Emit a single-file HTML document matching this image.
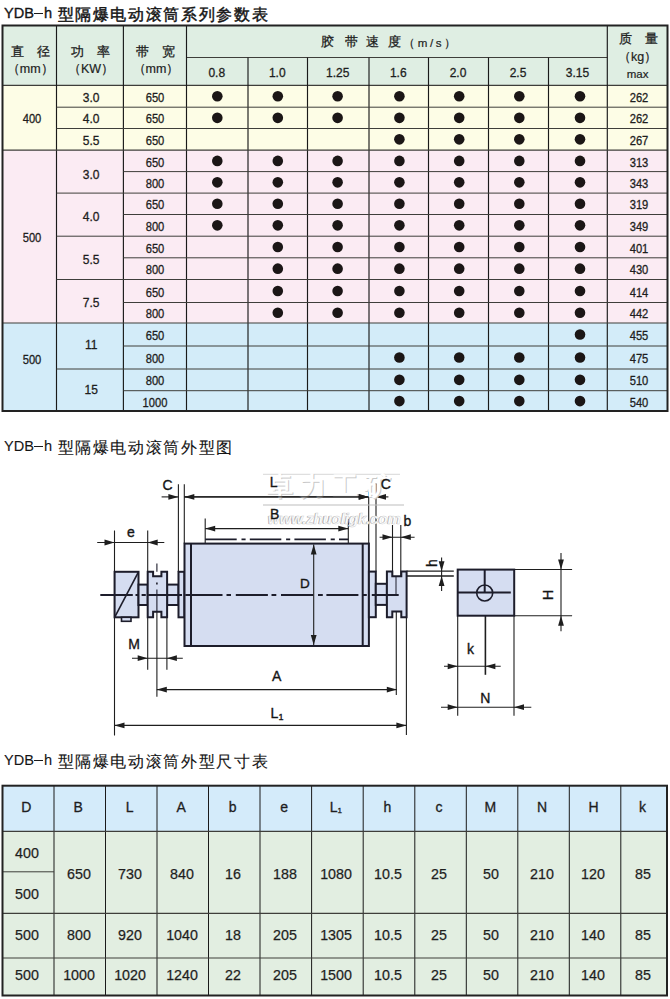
<!DOCTYPE html>
<html><head><meta charset="utf-8"><style>
html,body{margin:0;padding:0;background:#fff;}
body{width:670px;height:999px;position:relative;overflow:hidden;font-family:"Liberation Sans", sans-serif;}
svg{position:absolute;left:0;top:0;}
.t{position:absolute;width:200px;text-align:center;white-space:nowrap;}
.lt{position:absolute;white-space:nowrap;}
.dl{position:absolute;width:60px;height:20px;line-height:20px;text-align:center;color:#151515;white-space:nowrap;}
.lat{position:absolute;left:4px;height:16px;line-height:16px;font-size:15px;color:#151515;white-space:nowrap;transform:scaleX(0.97);transform-origin:0 0;-webkit-text-stroke:0.35px #151515;}
.cjk{position:absolute;left:57.5px;height:20px;line-height:20px;font-size:16.4px;letter-spacing:1.65px;color:#151515;white-space:nowrap;-webkit-text-stroke:0.4px #151515;}
</style></head><body>
<svg width="670" height="999" viewBox="0 0 670 999">
<rect x="2" y="25" width="666" height="60.3" fill="#dfeee3"/>
<rect x="2" y="85.3" width="666" height="64.89999999999999" fill="#fdfde6"/>
<rect x="2" y="150.2" width="666" height="172.8" fill="#fbebf3"/>
<rect x="2" y="323.0" width="666" height="88.5" fill="#d3ecf9"/>
<line x1="186.5" y1="57.5" x2="607.3" y2="57.5" stroke="#3e3e3a" stroke-width="1"/>
<line x1="2" y1="85.3" x2="668" y2="85.3" stroke="#3e3e3a" stroke-width="1.2"/>
<line x1="56.5" y1="25" x2="56.5" y2="411.5" stroke="#1a1a1a" stroke-width="1.15"/>
<line x1="123.4" y1="25" x2="123.4" y2="411.5" stroke="#1a1a1a" stroke-width="1.15"/>
<line x1="186.5" y1="25" x2="186.5" y2="411.5" stroke="#1a1a1a" stroke-width="1.15"/>
<line x1="248" y1="57.5" x2="248" y2="411.5" stroke="#1a1a1a" stroke-width="1.15"/>
<line x1="307.5" y1="57.5" x2="307.5" y2="411.5" stroke="#1a1a1a" stroke-width="1.15"/>
<line x1="369" y1="57.5" x2="369" y2="411.5" stroke="#1a1a1a" stroke-width="1.15"/>
<line x1="428.5" y1="57.5" x2="428.5" y2="411.5" stroke="#1a1a1a" stroke-width="1.15"/>
<line x1="488.5" y1="57.5" x2="488.5" y2="411.5" stroke="#1a1a1a" stroke-width="1.15"/>
<line x1="548.5" y1="57.5" x2="548.5" y2="411.5" stroke="#1a1a1a" stroke-width="1.15"/>
<line x1="607.3" y1="25" x2="607.3" y2="411.5" stroke="#1a1a1a" stroke-width="1.15"/>
<line x1="2" y1="150.2" x2="668" y2="150.2" stroke="#3e3e3a" stroke-width="1.2"/>
<line x1="2" y1="323.0" x2="668" y2="323.0" stroke="#3e3e3a" stroke-width="1.2"/>
<line x1="56.5" y1="107.2" x2="668" y2="107.2" stroke="#3e3e3a" stroke-width="1"/>
<line x1="56.5" y1="128.5" x2="668" y2="128.5" stroke="#3e3e3a" stroke-width="1"/>
<line x1="56.5" y1="193.1" x2="668" y2="193.1" stroke="#3e3e3a" stroke-width="1"/>
<line x1="56.5" y1="236.2" x2="668" y2="236.2" stroke="#3e3e3a" stroke-width="1"/>
<line x1="56.5" y1="279.5" x2="668" y2="279.5" stroke="#3e3e3a" stroke-width="1"/>
<line x1="56.5" y1="369.0" x2="668" y2="369.0" stroke="#3e3e3a" stroke-width="1"/>
<line x1="123.4" y1="171.6" x2="668" y2="171.6" stroke="#3e3e3a" stroke-width="1"/>
<line x1="123.4" y1="214.5" x2="668" y2="214.5" stroke="#3e3e3a" stroke-width="1"/>
<line x1="123.4" y1="257.8" x2="668" y2="257.8" stroke="#3e3e3a" stroke-width="1"/>
<line x1="123.4" y1="302.5" x2="668" y2="302.5" stroke="#3e3e3a" stroke-width="1"/>
<line x1="123.4" y1="346.0" x2="668" y2="346.0" stroke="#3e3e3a" stroke-width="1"/>
<line x1="123.4" y1="390.7" x2="668" y2="390.7" stroke="#3e3e3a" stroke-width="1"/>
<rect x="2.5" y="25.5" width="665" height="385.5" fill="none" stroke="#222" stroke-width="2"/>
<circle cx="217.3" cy="96.25" r="5.3" fill="#1b1616"/>
<circle cx="277.8" cy="96.25" r="5.3" fill="#1b1616"/>
<circle cx="337.6" cy="96.25" r="5.3" fill="#1b1616"/>
<circle cx="399.4" cy="96.25" r="5.3" fill="#1b1616"/>
<circle cx="459.2" cy="96.25" r="5.3" fill="#1b1616"/>
<circle cx="519.3" cy="96.25" r="5.3" fill="#1b1616"/>
<circle cx="580.0" cy="96.25" r="5.3" fill="#1b1616"/>
<circle cx="217.3" cy="117.85" r="5.3" fill="#1b1616"/>
<circle cx="277.8" cy="117.85" r="5.3" fill="#1b1616"/>
<circle cx="337.6" cy="117.85" r="5.3" fill="#1b1616"/>
<circle cx="399.4" cy="117.85" r="5.3" fill="#1b1616"/>
<circle cx="459.2" cy="117.85" r="5.3" fill="#1b1616"/>
<circle cx="519.3" cy="117.85" r="5.3" fill="#1b1616"/>
<circle cx="580.0" cy="117.85" r="5.3" fill="#1b1616"/>
<circle cx="399.4" cy="139.35" r="5.3" fill="#1b1616"/>
<circle cx="459.2" cy="139.35" r="5.3" fill="#1b1616"/>
<circle cx="519.3" cy="139.35" r="5.3" fill="#1b1616"/>
<circle cx="580.0" cy="139.35" r="5.3" fill="#1b1616"/>
<circle cx="217.3" cy="160.89999999999998" r="5.3" fill="#1b1616"/>
<circle cx="277.8" cy="160.89999999999998" r="5.3" fill="#1b1616"/>
<circle cx="337.6" cy="160.89999999999998" r="5.3" fill="#1b1616"/>
<circle cx="399.4" cy="160.89999999999998" r="5.3" fill="#1b1616"/>
<circle cx="459.2" cy="160.89999999999998" r="5.3" fill="#1b1616"/>
<circle cx="519.3" cy="160.89999999999998" r="5.3" fill="#1b1616"/>
<circle cx="580.0" cy="160.89999999999998" r="5.3" fill="#1b1616"/>
<circle cx="217.3" cy="182.35" r="5.3" fill="#1b1616"/>
<circle cx="277.8" cy="182.35" r="5.3" fill="#1b1616"/>
<circle cx="337.6" cy="182.35" r="5.3" fill="#1b1616"/>
<circle cx="399.4" cy="182.35" r="5.3" fill="#1b1616"/>
<circle cx="459.2" cy="182.35" r="5.3" fill="#1b1616"/>
<circle cx="519.3" cy="182.35" r="5.3" fill="#1b1616"/>
<circle cx="580.0" cy="182.35" r="5.3" fill="#1b1616"/>
<circle cx="217.3" cy="203.8" r="5.3" fill="#1b1616"/>
<circle cx="277.8" cy="203.8" r="5.3" fill="#1b1616"/>
<circle cx="337.6" cy="203.8" r="5.3" fill="#1b1616"/>
<circle cx="399.4" cy="203.8" r="5.3" fill="#1b1616"/>
<circle cx="459.2" cy="203.8" r="5.3" fill="#1b1616"/>
<circle cx="519.3" cy="203.8" r="5.3" fill="#1b1616"/>
<circle cx="580.0" cy="203.8" r="5.3" fill="#1b1616"/>
<circle cx="217.3" cy="225.35" r="5.3" fill="#1b1616"/>
<circle cx="277.8" cy="225.35" r="5.3" fill="#1b1616"/>
<circle cx="337.6" cy="225.35" r="5.3" fill="#1b1616"/>
<circle cx="399.4" cy="225.35" r="5.3" fill="#1b1616"/>
<circle cx="459.2" cy="225.35" r="5.3" fill="#1b1616"/>
<circle cx="519.3" cy="225.35" r="5.3" fill="#1b1616"/>
<circle cx="580.0" cy="225.35" r="5.3" fill="#1b1616"/>
<circle cx="277.8" cy="247.0" r="5.3" fill="#1b1616"/>
<circle cx="337.6" cy="247.0" r="5.3" fill="#1b1616"/>
<circle cx="399.4" cy="247.0" r="5.3" fill="#1b1616"/>
<circle cx="459.2" cy="247.0" r="5.3" fill="#1b1616"/>
<circle cx="519.3" cy="247.0" r="5.3" fill="#1b1616"/>
<circle cx="580.0" cy="247.0" r="5.3" fill="#1b1616"/>
<circle cx="277.8" cy="268.65" r="5.3" fill="#1b1616"/>
<circle cx="337.6" cy="268.65" r="5.3" fill="#1b1616"/>
<circle cx="399.4" cy="268.65" r="5.3" fill="#1b1616"/>
<circle cx="459.2" cy="268.65" r="5.3" fill="#1b1616"/>
<circle cx="519.3" cy="268.65" r="5.3" fill="#1b1616"/>
<circle cx="580.0" cy="268.65" r="5.3" fill="#1b1616"/>
<circle cx="277.8" cy="291.0" r="5.3" fill="#1b1616"/>
<circle cx="337.6" cy="291.0" r="5.3" fill="#1b1616"/>
<circle cx="399.4" cy="291.0" r="5.3" fill="#1b1616"/>
<circle cx="459.2" cy="291.0" r="5.3" fill="#1b1616"/>
<circle cx="519.3" cy="291.0" r="5.3" fill="#1b1616"/>
<circle cx="580.0" cy="291.0" r="5.3" fill="#1b1616"/>
<circle cx="277.8" cy="312.75" r="5.3" fill="#1b1616"/>
<circle cx="337.6" cy="312.75" r="5.3" fill="#1b1616"/>
<circle cx="399.4" cy="312.75" r="5.3" fill="#1b1616"/>
<circle cx="459.2" cy="312.75" r="5.3" fill="#1b1616"/>
<circle cx="519.3" cy="312.75" r="5.3" fill="#1b1616"/>
<circle cx="580.0" cy="312.75" r="5.3" fill="#1b1616"/>
<circle cx="580.0" cy="334.5" r="5.3" fill="#1b1616"/>
<circle cx="399.4" cy="357.5" r="5.3" fill="#1b1616"/>
<circle cx="459.2" cy="357.5" r="5.3" fill="#1b1616"/>
<circle cx="519.3" cy="357.5" r="5.3" fill="#1b1616"/>
<circle cx="580.0" cy="357.5" r="5.3" fill="#1b1616"/>
<circle cx="399.4" cy="379.85" r="5.3" fill="#1b1616"/>
<circle cx="459.2" cy="379.85" r="5.3" fill="#1b1616"/>
<circle cx="519.3" cy="379.85" r="5.3" fill="#1b1616"/>
<circle cx="580.0" cy="379.85" r="5.3" fill="#1b1616"/>
<circle cx="399.4" cy="401.1" r="5.3" fill="#1b1616"/>
<circle cx="459.2" cy="401.1" r="5.3" fill="#1b1616"/>
<circle cx="519.3" cy="401.1" r="5.3" fill="#1b1616"/>
<circle cx="580.0" cy="401.1" r="5.3" fill="#1b1616"/>
<rect x="2" y="785.2" width="665.5" height="46.19999999999993" fill="#d4ebfa"/>
<rect x="2" y="831.4" width="665.5" height="164.60000000000002" fill="#e2eee1"/>
<line x1="54" y1="785.2" x2="54" y2="996.0" stroke="#1a1a1a" stroke-width="1"/>
<line x1="105.5" y1="785.2" x2="105.5" y2="996.0" stroke="#1a1a1a" stroke-width="1"/>
<line x1="157" y1="785.2" x2="157" y2="996.0" stroke="#1a1a1a" stroke-width="1"/>
<line x1="208.5" y1="785.2" x2="208.5" y2="996.0" stroke="#1a1a1a" stroke-width="1"/>
<line x1="260" y1="785.2" x2="260" y2="996.0" stroke="#1a1a1a" stroke-width="1"/>
<line x1="311.6" y1="785.2" x2="311.6" y2="996.0" stroke="#1a1a1a" stroke-width="1"/>
<line x1="363.2" y1="785.2" x2="363.2" y2="996.0" stroke="#1a1a1a" stroke-width="1"/>
<line x1="414.8" y1="785.2" x2="414.8" y2="996.0" stroke="#1a1a1a" stroke-width="1"/>
<line x1="466.3" y1="785.2" x2="466.3" y2="996.0" stroke="#1a1a1a" stroke-width="1"/>
<line x1="517.8" y1="785.2" x2="517.8" y2="996.0" stroke="#1a1a1a" stroke-width="1"/>
<line x1="569.3" y1="785.2" x2="569.3" y2="996.0" stroke="#1a1a1a" stroke-width="1"/>
<line x1="620.8" y1="785.2" x2="620.8" y2="996.0" stroke="#1a1a1a" stroke-width="1"/>
<line x1="2" y1="831.4" x2="667.5" y2="831.4" stroke="#3e3e3a" stroke-width="1.2"/>
<line x1="2" y1="871.8" x2="54" y2="871.8" stroke="#3e3e3a" stroke-width="1"/>
<line x1="2" y1="913.3" x2="667.5" y2="913.3" stroke="#3e3e3a" stroke-width="1.2"/>
<line x1="2" y1="958.0" x2="667.5" y2="958.0" stroke="#3e3e3a" stroke-width="1.2"/>
<rect x="2.5" y="785.7" width="664.5" height="209.79999999999995" fill="none" stroke="#222" stroke-width="2"/>
<line x1="114.5" y1="530.5" x2="114.5" y2="735.5" stroke="#1e1e1e" stroke-width="1.1" />
<line x1="147.7" y1="530.5" x2="147.7" y2="669.8" stroke="#1e1e1e" stroke-width="1.1" />
<line x1="156.9" y1="611.8" x2="156.9" y2="696.7" stroke="#1e1e1e" stroke-width="1.1" />
<line x1="166.9" y1="617" x2="166.9" y2="669.8" stroke="#1e1e1e" stroke-width="1.1" />
<line x1="178.4" y1="484.3" x2="178.4" y2="571.8" stroke="#1e1e1e" stroke-width="1.1" />
<line x1="184.3" y1="484.3" x2="184.3" y2="543.6" stroke="#1e1e1e" stroke-width="1.1" />
<line x1="205.2" y1="518.4" x2="205.2" y2="543" stroke="#1e1e1e" stroke-width="1.1" />
<line x1="348.3" y1="519" x2="348.3" y2="543" stroke="#1e1e1e" stroke-width="1.1" />
<line x1="368.7" y1="483.4" x2="368.7" y2="543.6" stroke="#1e1e1e" stroke-width="1.1" />
<line x1="376.0" y1="483.4" x2="376.0" y2="571.6" stroke="#1e1e1e" stroke-width="1.1" />
<line x1="392.5" y1="525" x2="392.5" y2="576" stroke="#1e1e1e" stroke-width="1.1" />
<line x1="400.8" y1="525" x2="400.8" y2="576" stroke="#1e1e1e" stroke-width="1.1" />
<line x1="396.3" y1="611.5" x2="396.3" y2="695" stroke="#1e1e1e" stroke-width="1.1" />
<line x1="406.4" y1="617" x2="406.4" y2="735" stroke="#1e1e1e" stroke-width="1.1" />
<line x1="457.7" y1="615.7" x2="457.7" y2="715.8" stroke="#1e1e1e" stroke-width="1.1" />
<line x1="514.0" y1="615.7" x2="514.0" y2="715.8" stroke="#1e1e1e" stroke-width="1.1" />
<line x1="485.4" y1="611.8" x2="485.4" y2="674.8" stroke="#1e1e1e" stroke-width="1.6" />
<line x1="406.5" y1="571.2" x2="453.8" y2="571.2" stroke="#1e1e1e" stroke-width="1.3" />
<line x1="406.5" y1="576.0" x2="453.8" y2="576.0" stroke="#1e1e1e" stroke-width="1.3" />
<line x1="514.0" y1="569.5" x2="572.1" y2="569.5" stroke="#1e1e1e" stroke-width="1.1" />
<line x1="514.0" y1="615.8" x2="572.1" y2="615.8" stroke="#1e1e1e" stroke-width="1.1" />
<line x1="161.6" y1="496.9" x2="178.4" y2="496.9" stroke="#1e1e1e" stroke-width="1.1" />
<polygon points="178.4,496.9 168.4,494.0 168.4,499.8" fill="#1e1e1e"/>
<line x1="184.3" y1="496.9" x2="368.7" y2="496.9" stroke="#1e1e1e" stroke-width="1.1" />
<polygon points="184.3,496.9 194.3,494.0 194.3,499.8" fill="#1e1e1e"/>
<polygon points="368.7,496.9 358.7,494.0 358.7,499.8" fill="#1e1e1e"/>
<line x1="376.0" y1="496.9" x2="388.4" y2="496.9" stroke="#1e1e1e" stroke-width="1.1" />
<polygon points="376.0,496.9 386.0,494.0 386.0,499.8" fill="#1e1e1e"/>
<line x1="205.2" y1="528.6" x2="348.3" y2="528.6" stroke="#1e1e1e" stroke-width="1.1" />
<polygon points="205.2,528.6 215.2,525.7 215.2,531.5" fill="#1e1e1e"/>
<polygon points="348.3,528.6 338.3,525.7 338.3,531.5" fill="#1e1e1e"/>
<line x1="97.2" y1="542.5" x2="164.3" y2="542.5" stroke="#1e1e1e" stroke-width="1.1" />
<polygon points="114.5,542.5 104.5,539.6 104.5,545.4" fill="#1e1e1e"/>
<polygon points="147.7,542.5 157.7,539.6 157.7,545.4" fill="#1e1e1e"/>
<line x1="379.6" y1="537.2" x2="414.6" y2="537.2" stroke="#1e1e1e" stroke-width="1.1" />
<polygon points="392.5,537.2 382.5,534.3 382.5,540.1" fill="#1e1e1e"/>
<polygon points="400.8,537.2 410.8,534.3 410.8,540.1" fill="#1e1e1e"/>
<line x1="132" y1="658.2" x2="182.8" y2="658.2" stroke="#1e1e1e" stroke-width="1.1" />
<polygon points="147.7,658.2 137.7,655.3 137.7,661.1" fill="#1e1e1e"/>
<polygon points="166.9,658.2 176.9,655.3 176.9,661.1" fill="#1e1e1e"/>
<line x1="156.8" y1="689.6" x2="396.8" y2="689.6" stroke="#1e1e1e" stroke-width="1.1" />
<polygon points="156.8,689.6 166.8,686.7 166.8,692.5" fill="#1e1e1e"/>
<polygon points="396.8,689.6 386.8,686.7 386.8,692.5" fill="#1e1e1e"/>
<line x1="114.5" y1="725.4" x2="406.4" y2="725.4" stroke="#1e1e1e" stroke-width="1.1" />
<polygon points="114.5,725.4 124.5,722.5 124.5,728.3" fill="#1e1e1e"/>
<polygon points="406.4,725.4 396.4,722.5 396.4,728.3" fill="#1e1e1e"/>
<line x1="441.6" y1="557.5" x2="441.6" y2="591" stroke="#1e1e1e" stroke-width="1.1" />
<polygon points="441.6,571.2 438.7,561.2 444.5,561.2" fill="#1e1e1e"/>
<polygon points="441.6,576.0 438.7,586.0 444.5,586.0" fill="#1e1e1e"/>
<line x1="561.0" y1="553" x2="561.0" y2="631.3" stroke="#1e1e1e" stroke-width="1.1" />
<polygon points="561.0,569.5 558.1,559.5 563.9,559.5" fill="#1e1e1e"/>
<polygon points="561.0,615.8 558.1,625.8 563.9,625.8" fill="#1e1e1e"/>
<line x1="444" y1="666.3" x2="500.7" y2="666.3" stroke="#1e1e1e" stroke-width="1.1" />
<polygon points="457.7,666.3 447.7,663.4 447.7,669.2" fill="#1e1e1e"/>
<polygon points="485.4,666.3 495.4,663.4 495.4,669.2" fill="#1e1e1e"/>
<line x1="441" y1="707.2" x2="531.3" y2="707.2" stroke="#1e1e1e" stroke-width="1.1" />
<polygon points="457.7,707.2 447.7,704.3 447.7,710.1" fill="#1e1e1e"/>
<polygon points="514.0,707.2 524.0,704.3 524.0,710.1" fill="#1e1e1e"/>
<line x1="205.2" y1="539.4" x2="348.3" y2="539.4" stroke="#1d1d2b" stroke-width="1.7" stroke-dasharray="31.5 4.8 4.1 4.2"/>
<rect x="114.6" y="571.8" width="23.900000000000006" height="45.5" fill="#d5ddf1" stroke="#1d1d2b" stroke-width="2"/>
<line x1="114.6" y1="617.3" x2="138.5" y2="571.8" stroke="#1d1d2b" stroke-width="1.6" />
<rect x="121.5" y="617.3" width="9.5" height="4.0" fill="#d5ddf1" stroke="#1d1d2b" stroke-width="1.6"/>
<rect x="138.5" y="584.6" width="9.199999999999989" height="20.399999999999977" fill="#d5ddf1" stroke="#1d1d2b" stroke-width="2"/>
<rect x="167.1" y="584.6" width="11.400000000000006" height="20.399999999999977" fill="#d5ddf1" stroke="#1d1d2b" stroke-width="2"/>
<polygon points="147.7,571.8 153.1,571.8 153.1,576.3 161.4,576.3 161.4,571.8 167.1,571.8 167.1,617.3 161.4,617.3 161.4,611.8 153.1,611.8 153.1,617.3 147.7,617.3" fill="#d5ddf1" stroke="#1d1d2b" stroke-width="2"/>
<rect x="178.5" y="571.8" width="5.900000000000006" height="45.5" fill="#d5ddf1" stroke="#1d1d2b" stroke-width="2"/>
<rect x="184.5" y="543.6" width="184.39999999999998" height="102.39999999999998" fill="#d5ddf1" stroke="#1d1d2b" stroke-width="2"/>
<line x1="191.0" y1="543.6" x2="191.0" y2="646.0" stroke="#1d1d2b" stroke-width="2" />
<line x1="362.7" y1="543.6" x2="362.7" y2="646.0" stroke="#1d1d2b" stroke-width="2" />
<rect x="368.9" y="571.6" width="6.900000000000034" height="45.60000000000002" fill="#d5ddf1" stroke="#1d1d2b" stroke-width="2"/>
<rect x="375.8" y="583.8" width="11.099999999999966" height="21.100000000000023" fill="#d5ddf1" stroke="#1d1d2b" stroke-width="2"/>
<polygon points="386.9,571.6 392.3,571.6 392.3,576.2 401.3,576.2 401.3,571.6 406.6,571.6 406.6,617.2 401.3,617.2 401.3,611.5 392.3,611.5 392.3,617.2 386.9,617.2" fill="#d5ddf1" stroke="#1d1d2b" stroke-width="2"/>
<rect x="457.7" y="569.6" width="56.50000000000006" height="46.10000000000002" fill="#d5ddf1" stroke="#1d1d2b" stroke-width="2"/>
<line x1="484.7" y1="569.6" x2="484.7" y2="592.5" stroke="#1d1d2b" stroke-width="2" />
<line x1="457.7" y1="592.5" x2="510.8" y2="592.5" stroke="#1d1d2b" stroke-width="2" />
<circle cx="484.7" cy="593" r="8" fill="none" stroke="#1d1d2b" stroke-width="1.6"/>
<line x1="100.3" y1="595.0" x2="132.8" y2="595.0" stroke="#1d1d2b" stroke-width="2" />
<line x1="135.5" y1="595.0" x2="138.2" y2="595.0" stroke="#1d1d2b" stroke-width="2" />
<line x1="141.6" y1="595.0" x2="145.8" y2="595.0" stroke="#1d1d2b" stroke-width="2" />
<line x1="148.2" y1="595.0" x2="182.0" y2="595.0" stroke="#1d1d2b" stroke-width="2" />
<line x1="185.3" y1="595.0" x2="222.5" y2="595.0" stroke="#1d1d2b" stroke-width="2" />
<line x1="226.5" y1="595.0" x2="231.0" y2="595.0" stroke="#1d1d2b" stroke-width="2" />
<line x1="235.8" y1="595.0" x2="267.9" y2="595.0" stroke="#1d1d2b" stroke-width="2" />
<line x1="271.5" y1="595.0" x2="276.3" y2="595.0" stroke="#1d1d2b" stroke-width="2" />
<line x1="281.0" y1="595.0" x2="313.3" y2="595.0" stroke="#1d1d2b" stroke-width="2" />
<line x1="318.0" y1="595.0" x2="322.8" y2="595.0" stroke="#1d1d2b" stroke-width="2" />
<line x1="326.4" y1="595.0" x2="358.4" y2="595.0" stroke="#1d1d2b" stroke-width="2" />
<line x1="362.9" y1="595.0" x2="366.8" y2="595.0" stroke="#1d1d2b" stroke-width="2" />
<line x1="371.8" y1="595.0" x2="398.7" y2="595.0" stroke="#1d1d2b" stroke-width="2" />
<line x1="156.9" y1="563.5" x2="156.9" y2="571.8" stroke="#1d1d2b" stroke-width="1.1" />
<line x1="156.9" y1="582.4" x2="156.9" y2="584.6" stroke="#1d1d2b" stroke-width="1.6" />
<line x1="156.9" y1="589.6" x2="156.9" y2="611.8" stroke="#1d1d2b" stroke-width="1.1" />
<line x1="396.0" y1="576.2" x2="396.0" y2="594.0" stroke="#1d1d2b" stroke-width="1.0" />
<line x1="313.7" y1="544.6" x2="313.7" y2="645" stroke="#1e1e1e" stroke-width="1.1" />
<polygon points="313.7,544.6 310.8,554.6 316.6,554.6" fill="#1e1e1e"/>
<polygon points="313.7,645.0 310.8,635.0 316.6,635.0" fill="#1e1e1e"/>
<line x1="263" y1="474.3" x2="400" y2="474.3" stroke="#d8d8d8" stroke-width="1"/>
<line x1="263" y1="505" x2="404" y2="505" stroke="#bdbdbd" stroke-width="1"/>
<text x="268" y="496.3" font-family="Liberation Sans, sans-serif" font-size="26" letter-spacing="6.5" fill="#c8c8c8" font-weight="bold">卓力工矿</text>
<text x="267" y="495.3" font-family="Liberation Sans, sans-serif" font-size="26" letter-spacing="6.5" fill="#fff" font-weight="bold">卓力工矿</text>
<text x="267.2" y="524.3" font-family="Liberation Sans, sans-serif" font-size="15" font-style="italic" font-weight="bold" letter-spacing="-0.1" fill="#9c9c9c">www.zhuoligk.com</text>
<text x="268" y="523.5" font-family="Liberation Sans, sans-serif" font-size="15" font-style="italic" font-weight="bold" letter-spacing="-0.1" fill="#fff" stroke="#d0d0d0" stroke-width="0.4">www.zhuoligk.com</text>
<line x1="184.3" y1="496.9" x2="368.7" y2="496.9" stroke="#1e1e1e" stroke-width="1.1" />
<polygon points="368.7,496.9 358.7,494.0 358.7,499.8" fill="#1e1e1e"/>
</svg>
<div class="lat" style="top:4.8px;-webkit-text-stroke:0.35px #151515;">YDB</div>
<div style="position:absolute;left:33.6px;top:12.6px;width:9.6px;height:1.5px;background:#1a1a1a"></div>
<div class="lat" style="top:4.8px;left:44.2px;-webkit-text-stroke:0.35px #151515;">h</div>
<div class="cjk" style="top:3.5999999999999996px;-webkit-text-stroke:0.45px #151515;">型隔爆电动滚筒系列参数表</div>
<div class="lat" style="top:438.1px;-webkit-text-stroke:0.1px #151515;">YDB</div>
<div style="position:absolute;left:33.6px;top:445.90000000000003px;width:9.6px;height:1.3px;background:#1a1a1a"></div>
<div class="lat" style="top:438.1px;left:44.2px;-webkit-text-stroke:0.1px #151515;">h</div>
<div class="cjk" style="top:436.90000000000003px;-webkit-text-stroke:0.12px #151515;">型隔爆电动滚筒外型图</div>
<div class="lat" style="top:751.9px;-webkit-text-stroke:0.1px #151515;">YDB</div>
<div style="position:absolute;left:33.6px;top:759.6999999999999px;width:9.6px;height:1.3px;background:#1a1a1a"></div>
<div class="lat" style="top:751.9px;left:44.2px;-webkit-text-stroke:0.1px #151515;">h</div>
<div class="cjk" style="top:750.6999999999999px;-webkit-text-stroke:0.12px #151515;">型隔爆电动滚筒外型尺寸表</div>
<div class="t" style="left:-69.75px;top:46.05px;height:12.5px;line-height:12.5px;font-size:12.5px;color:#1e1e1e;font-weight:normal;-webkit-text-stroke:0.3px #1e1e1e;">直&#12288;径</div>
<div class="t" style="left:-69.75px;top:63.150000000000006px;height:12.5px;line-height:12.5px;font-size:12.5px;color:#1e1e1e;font-weight:normal;-webkit-text-stroke:0.2px #1e1e1e;">（mm）</div>
<div class="t" style="left:-9.049999999999997px;top:46.05px;height:12.5px;line-height:12.5px;font-size:12.5px;color:#1e1e1e;font-weight:normal;-webkit-text-stroke:0.3px #1e1e1e;">功&#12288;率</div>
<div class="t" style="left:-9.049999999999997px;top:63.150000000000006px;height:12.5px;line-height:12.5px;font-size:12.5px;color:#1e1e1e;font-weight:normal;-webkit-text-stroke:0.2px #1e1e1e;">（KW）</div>
<div class="t" style="left:55.94999999999999px;top:46.05px;height:12.5px;line-height:12.5px;font-size:12.5px;color:#1e1e1e;font-weight:normal;-webkit-text-stroke:0.3px #1e1e1e;">带&#12288;宽</div>
<div class="t" style="left:55.94999999999999px;top:63.150000000000006px;height:12.5px;line-height:12.5px;font-size:12.5px;color:#1e1e1e;font-weight:normal;-webkit-text-stroke:0.2px #1e1e1e;">（mm）</div>
<div class="lt" style="left:321.0px;top:36.25px;height:12.5px;line-height:12.5px;font-size:12.5px;color:#1e1e1e;font-weight:normal;-webkit-text-stroke:0.3px #1e1e1e;">胶</div>
<div class="lt" style="left:344.8px;top:36.25px;height:12.5px;line-height:12.5px;font-size:12.5px;color:#1e1e1e;font-weight:normal;-webkit-text-stroke:0.3px #1e1e1e;">带</div>
<div class="lt" style="left:366.3px;top:36.25px;height:12.5px;line-height:12.5px;font-size:12.5px;color:#1e1e1e;font-weight:normal;-webkit-text-stroke:0.3px #1e1e1e;">速</div>
<div class="lt" style="left:388.3px;top:36.25px;height:12.5px;line-height:12.5px;font-size:12.5px;color:#1e1e1e;font-weight:normal;-webkit-text-stroke:0.3px #1e1e1e;">度</div>
<div class="lt" style="left:403.2px;top:36.5px;height:11.6px;line-height:11.6px;font-size:11.6px;color:#1e1e1e;font-weight:normal;letter-spacing:2.6px;-webkit-text-stroke:0.2px #1e1e1e;">（m/s）</div>
<div class="t" style="left:538.65px;top:33.25px;height:12.5px;line-height:12.5px;font-size:12.5px;color:#1e1e1e;font-weight:normal;-webkit-text-stroke:0.3px #1e1e1e;">质&#12288;量</div>
<div class="t" style="left:537.65px;top:51.25px;height:12.5px;line-height:12.5px;font-size:12.5px;color:#1e1e1e;font-weight:normal;-webkit-text-stroke:0.2px #1e1e1e;">（kg）</div>
<div class="t" style="left:537.65px;top:68.75px;height:11.5px;line-height:11.5px;font-size:11.5px;color:#1e1e1e;font-weight:normal;-webkit-text-stroke:0.2px #1e1e1e;">max</div>
<div class="t" style="left:116.75px;top:66.5px;height:12px;line-height:12px;font-size:12px;color:#1e1e1e;font-weight:normal;-webkit-text-stroke:0.3px #1e1e1e;">0.8</div>
<div class="t" style="left:177.25px;top:66.5px;height:12px;line-height:12px;font-size:12px;color:#1e1e1e;font-weight:normal;-webkit-text-stroke:0.3px #1e1e1e;">1.0</div>
<div class="t" style="left:237.75px;top:66.5px;height:12px;line-height:12px;font-size:12px;color:#1e1e1e;font-weight:normal;-webkit-text-stroke:0.3px #1e1e1e;">1.25</div>
<div class="t" style="left:298.25px;top:66.5px;height:12px;line-height:12px;font-size:12px;color:#1e1e1e;font-weight:normal;-webkit-text-stroke:0.3px #1e1e1e;">1.6</div>
<div class="t" style="left:358.0px;top:66.5px;height:12px;line-height:12px;font-size:12px;color:#1e1e1e;font-weight:normal;-webkit-text-stroke:0.3px #1e1e1e;">2.0</div>
<div class="t" style="left:418.0px;top:66.5px;height:12px;line-height:12px;font-size:12px;color:#1e1e1e;font-weight:normal;-webkit-text-stroke:0.3px #1e1e1e;">2.5</div>
<div class="t" style="left:477.4px;top:66.5px;height:12px;line-height:12px;font-size:12px;color:#1e1e1e;font-weight:normal;-webkit-text-stroke:0.3px #1e1e1e;">3.15</div>
<div class="t" style="left:-8.849999999999994px;top:91.85px;height:12px;line-height:12px;font-size:12px;color:#1e1e1e;font-weight:normal;-webkit-text-stroke:0.3px #1e1e1e;">3.0</div>
<div class="t" style="left:55.14999999999998px;top:91.85px;height:12px;line-height:12px;font-size:12px;color:#1e1e1e;font-weight:normal;transform:scaleX(0.93);-webkit-text-stroke:0.3px #1e1e1e;">650</div>
<div class="t" style="left:538.85px;top:91.85px;height:12px;line-height:12px;font-size:12px;color:#1e1e1e;font-weight:normal;transform:scaleX(0.93);-webkit-text-stroke:0.3px #1e1e1e;">262</div>
<div class="t" style="left:-8.849999999999994px;top:113.44999999999999px;height:12px;line-height:12px;font-size:12px;color:#1e1e1e;font-weight:normal;-webkit-text-stroke:0.3px #1e1e1e;">4.0</div>
<div class="t" style="left:55.14999999999998px;top:113.44999999999999px;height:12px;line-height:12px;font-size:12px;color:#1e1e1e;font-weight:normal;transform:scaleX(0.93);-webkit-text-stroke:0.3px #1e1e1e;">650</div>
<div class="t" style="left:538.85px;top:113.44999999999999px;height:12px;line-height:12px;font-size:12px;color:#1e1e1e;font-weight:normal;transform:scaleX(0.93);-webkit-text-stroke:0.3px #1e1e1e;">262</div>
<div class="t" style="left:-8.849999999999994px;top:134.95px;height:12px;line-height:12px;font-size:12px;color:#1e1e1e;font-weight:normal;-webkit-text-stroke:0.3px #1e1e1e;">5.5</div>
<div class="t" style="left:55.14999999999998px;top:134.95px;height:12px;line-height:12px;font-size:12px;color:#1e1e1e;font-weight:normal;transform:scaleX(0.93);-webkit-text-stroke:0.3px #1e1e1e;">650</div>
<div class="t" style="left:538.85px;top:134.95px;height:12px;line-height:12px;font-size:12px;color:#1e1e1e;font-weight:normal;transform:scaleX(0.93);-webkit-text-stroke:0.3px #1e1e1e;">267</div>
<div class="t" style="left:-8.849999999999994px;top:168.7px;height:12px;line-height:12px;font-size:12px;color:#1e1e1e;font-weight:normal;-webkit-text-stroke:0.3px #1e1e1e;">3.0</div>
<div class="t" style="left:55.14999999999998px;top:156.49999999999997px;height:12px;line-height:12px;font-size:12px;color:#1e1e1e;font-weight:normal;transform:scaleX(0.93);-webkit-text-stroke:0.3px #1e1e1e;">650</div>
<div class="t" style="left:538.85px;top:156.49999999999997px;height:12px;line-height:12px;font-size:12px;color:#1e1e1e;font-weight:normal;transform:scaleX(0.93);-webkit-text-stroke:0.3px #1e1e1e;">313</div>
<div class="t" style="left:55.14999999999998px;top:177.95px;height:12px;line-height:12px;font-size:12px;color:#1e1e1e;font-weight:normal;transform:scaleX(0.93);-webkit-text-stroke:0.3px #1e1e1e;">800</div>
<div class="t" style="left:538.85px;top:177.95px;height:12px;line-height:12px;font-size:12px;color:#1e1e1e;font-weight:normal;transform:scaleX(0.93);-webkit-text-stroke:0.3px #1e1e1e;">343</div>
<div class="t" style="left:-8.849999999999994px;top:211.1px;height:12px;line-height:12px;font-size:12px;color:#1e1e1e;font-weight:normal;-webkit-text-stroke:0.3px #1e1e1e;">4.0</div>
<div class="t" style="left:55.14999999999998px;top:199.4px;height:12px;line-height:12px;font-size:12px;color:#1e1e1e;font-weight:normal;transform:scaleX(0.93);-webkit-text-stroke:0.3px #1e1e1e;">650</div>
<div class="t" style="left:538.85px;top:199.4px;height:12px;line-height:12px;font-size:12px;color:#1e1e1e;font-weight:normal;transform:scaleX(0.93);-webkit-text-stroke:0.3px #1e1e1e;">319</div>
<div class="t" style="left:55.14999999999998px;top:220.95px;height:12px;line-height:12px;font-size:12px;color:#1e1e1e;font-weight:normal;transform:scaleX(0.93);-webkit-text-stroke:0.3px #1e1e1e;">800</div>
<div class="t" style="left:538.85px;top:220.95px;height:12px;line-height:12px;font-size:12px;color:#1e1e1e;font-weight:normal;transform:scaleX(0.93);-webkit-text-stroke:0.3px #1e1e1e;">349</div>
<div class="t" style="left:-8.849999999999994px;top:253.90000000000003px;height:12px;line-height:12px;font-size:12px;color:#1e1e1e;font-weight:normal;-webkit-text-stroke:0.3px #1e1e1e;">5.5</div>
<div class="t" style="left:55.14999999999998px;top:242.6px;height:12px;line-height:12px;font-size:12px;color:#1e1e1e;font-weight:normal;transform:scaleX(0.93);-webkit-text-stroke:0.3px #1e1e1e;">650</div>
<div class="t" style="left:538.85px;top:242.6px;height:12px;line-height:12px;font-size:12px;color:#1e1e1e;font-weight:normal;transform:scaleX(0.93);-webkit-text-stroke:0.3px #1e1e1e;">401</div>
<div class="t" style="left:55.14999999999998px;top:264.25px;height:12px;line-height:12px;font-size:12px;color:#1e1e1e;font-weight:normal;transform:scaleX(0.93);-webkit-text-stroke:0.3px #1e1e1e;">800</div>
<div class="t" style="left:538.85px;top:264.25px;height:12px;line-height:12px;font-size:12px;color:#1e1e1e;font-weight:normal;transform:scaleX(0.93);-webkit-text-stroke:0.3px #1e1e1e;">430</div>
<div class="t" style="left:-8.849999999999994px;top:296.6px;height:12px;line-height:12px;font-size:12px;color:#1e1e1e;font-weight:normal;-webkit-text-stroke:0.3px #1e1e1e;">7.5</div>
<div class="t" style="left:55.14999999999998px;top:286.6px;height:12px;line-height:12px;font-size:12px;color:#1e1e1e;font-weight:normal;transform:scaleX(0.93);-webkit-text-stroke:0.3px #1e1e1e;">650</div>
<div class="t" style="left:538.85px;top:286.6px;height:12px;line-height:12px;font-size:12px;color:#1e1e1e;font-weight:normal;transform:scaleX(0.93);-webkit-text-stroke:0.3px #1e1e1e;">414</div>
<div class="t" style="left:55.14999999999998px;top:308.35px;height:12px;line-height:12px;font-size:12px;color:#1e1e1e;font-weight:normal;transform:scaleX(0.93);-webkit-text-stroke:0.3px #1e1e1e;">800</div>
<div class="t" style="left:538.85px;top:308.35px;height:12px;line-height:12px;font-size:12px;color:#1e1e1e;font-weight:normal;transform:scaleX(0.93);-webkit-text-stroke:0.3px #1e1e1e;">442</div>
<div class="t" style="left:-8.849999999999994px;top:338.6px;height:12px;line-height:12px;font-size:12px;color:#1e1e1e;font-weight:normal;-webkit-text-stroke:0.3px #1e1e1e;">11</div>
<div class="t" style="left:55.14999999999998px;top:330.1px;height:12px;line-height:12px;font-size:12px;color:#1e1e1e;font-weight:normal;transform:scaleX(0.93);-webkit-text-stroke:0.3px #1e1e1e;">650</div>
<div class="t" style="left:538.85px;top:330.1px;height:12px;line-height:12px;font-size:12px;color:#1e1e1e;font-weight:normal;transform:scaleX(0.93);-webkit-text-stroke:0.3px #1e1e1e;">455</div>
<div class="t" style="left:55.14999999999998px;top:353.1px;height:12px;line-height:12px;font-size:12px;color:#1e1e1e;font-weight:normal;transform:scaleX(0.93);-webkit-text-stroke:0.3px #1e1e1e;">800</div>
<div class="t" style="left:538.85px;top:353.1px;height:12px;line-height:12px;font-size:12px;color:#1e1e1e;font-weight:normal;transform:scaleX(0.93);-webkit-text-stroke:0.3px #1e1e1e;">475</div>
<div class="t" style="left:-8.849999999999994px;top:384.0px;height:12px;line-height:12px;font-size:12px;color:#1e1e1e;font-weight:normal;-webkit-text-stroke:0.3px #1e1e1e;">15</div>
<div class="t" style="left:55.14999999999998px;top:375.45000000000005px;height:12px;line-height:12px;font-size:12px;color:#1e1e1e;font-weight:normal;transform:scaleX(0.93);-webkit-text-stroke:0.3px #1e1e1e;">800</div>
<div class="t" style="left:538.85px;top:375.45000000000005px;height:12px;line-height:12px;font-size:12px;color:#1e1e1e;font-weight:normal;transform:scaleX(0.93);-webkit-text-stroke:0.3px #1e1e1e;">510</div>
<div class="t" style="left:55.14999999999998px;top:396.70000000000005px;height:12px;line-height:12px;font-size:12px;color:#1e1e1e;font-weight:normal;transform:scaleX(0.93);-webkit-text-stroke:0.3px #1e1e1e;">1000</div>
<div class="t" style="left:538.85px;top:396.70000000000005px;height:12px;line-height:12px;font-size:12px;color:#1e1e1e;font-weight:normal;transform:scaleX(0.93);-webkit-text-stroke:0.3px #1e1e1e;">540</div>
<div class="t" style="left:-68.35px;top:113.35px;height:12px;line-height:12px;font-size:12px;color:#1e1e1e;font-weight:normal;transform:scaleX(0.93);-webkit-text-stroke:0.3px #1e1e1e;">400</div>
<div class="t" style="left:-68.35px;top:232.2px;height:12px;line-height:12px;font-size:12px;color:#1e1e1e;font-weight:normal;transform:scaleX(0.93);-webkit-text-stroke:0.3px #1e1e1e;">500</div>
<div class="t" style="left:-68.35px;top:353.75px;height:12px;line-height:12px;font-size:12px;color:#1e1e1e;font-weight:normal;transform:scaleX(0.93);-webkit-text-stroke:0.3px #1e1e1e;">500</div>
<div class="t" style="left:-73.6px;top:800.0px;height:14px;line-height:14px;font-size:14px;color:#1e1e1e;font-weight:normal;-webkit-text-stroke:0.3px #1e1e1e;">D</div>
<div class="t" style="left:-21.849999999999994px;top:800.0px;height:14px;line-height:14px;font-size:14px;color:#1e1e1e;font-weight:normal;-webkit-text-stroke:0.3px #1e1e1e;">B</div>
<div class="t" style="left:29.650000000000006px;top:800.0px;height:14px;line-height:14px;font-size:14px;color:#1e1e1e;font-weight:normal;-webkit-text-stroke:0.3px #1e1e1e;">L</div>
<div class="t" style="left:81.15px;top:800.0px;height:14px;line-height:14px;font-size:14px;color:#1e1e1e;font-weight:normal;-webkit-text-stroke:0.3px #1e1e1e;">A</div>
<div class="t" style="left:132.65px;top:800.0px;height:14px;line-height:14px;font-size:14px;color:#1e1e1e;font-weight:normal;-webkit-text-stroke:0.3px #1e1e1e;">b</div>
<div class="t" style="left:184.2px;top:800.0px;height:14px;line-height:14px;font-size:14px;color:#1e1e1e;font-weight:normal;-webkit-text-stroke:0.3px #1e1e1e;">e</div>
<div class="t" style="left:235.79999999999995px;top:800.0px;height:14px;line-height:14px;font-size:14px;color:#1e1e1e;font-weight:normal;-webkit-text-stroke:0.3px #1e1e1e;">L<span style="font-size:8px;vertical-align:-1px">1</span></div>
<div class="t" style="left:287.4px;top:800.0px;height:14px;line-height:14px;font-size:14px;color:#1e1e1e;font-weight:normal;-webkit-text-stroke:0.3px #1e1e1e;">h</div>
<div class="t" style="left:338.95px;top:800.0px;height:14px;line-height:14px;font-size:14px;color:#1e1e1e;font-weight:normal;-webkit-text-stroke:0.3px #1e1e1e;">c</div>
<div class="t" style="left:390.44999999999993px;top:800.0px;height:14px;line-height:14px;font-size:14px;color:#1e1e1e;font-weight:normal;-webkit-text-stroke:0.3px #1e1e1e;">M</div>
<div class="t" style="left:441.94999999999993px;top:800.0px;height:14px;line-height:14px;font-size:14px;color:#1e1e1e;font-weight:normal;-webkit-text-stroke:0.3px #1e1e1e;">N</div>
<div class="t" style="left:493.44999999999993px;top:800.0px;height:14px;line-height:14px;font-size:14px;color:#1e1e1e;font-weight:normal;-webkit-text-stroke:0.3px #1e1e1e;">H</div>
<div class="t" style="left:542.55px;top:800.0px;height:14px;line-height:14px;font-size:14px;color:#1e1e1e;font-weight:normal;-webkit-text-stroke:0.3px #1e1e1e;">k</div>
<div class="t" style="left:-72.8px;top:845.0999999999999px;height:15px;line-height:15px;font-size:15px;color:#1e1e1e;font-weight:normal;transform:scaleX(0.95);-webkit-text-stroke:0.25px #1e1e1e;">400</div>
<div class="t" style="left:-72.8px;top:886.05px;height:15px;line-height:15px;font-size:15px;color:#1e1e1e;font-weight:normal;transform:scaleX(0.95);-webkit-text-stroke:0.25px #1e1e1e;">500</div>
<div class="t" style="left:-21.120000000000005px;top:866.3499999999999px;height:15px;line-height:15px;font-size:15px;color:#1e1e1e;font-weight:normal;transform:scaleX(0.95);-webkit-text-stroke:0.25px #1e1e1e;">650</div>
<div class="t" style="left:30.310000000000002px;top:866.3499999999999px;height:15px;line-height:15px;font-size:15px;color:#1e1e1e;font-weight:normal;transform:scaleX(0.95);-webkit-text-stroke:0.25px #1e1e1e;">730</div>
<div class="t" style="left:81.74000000000001px;top:866.3499999999999px;height:15px;line-height:15px;font-size:15px;color:#1e1e1e;font-weight:normal;transform:scaleX(0.95);-webkit-text-stroke:0.25px #1e1e1e;">840</div>
<div class="t" style="left:133.17px;top:866.3499999999999px;height:15px;line-height:15px;font-size:15px;color:#1e1e1e;font-weight:normal;transform:scaleX(0.95);-webkit-text-stroke:0.25px #1e1e1e;">16</div>
<div class="t" style="left:184.65000000000003px;top:866.3499999999999px;height:15px;line-height:15px;font-size:15px;color:#1e1e1e;font-weight:normal;transform:scaleX(0.95);-webkit-text-stroke:0.25px #1e1e1e;">188</div>
<div class="t" style="left:236.17999999999995px;top:866.3499999999999px;height:15px;line-height:15px;font-size:15px;color:#1e1e1e;font-weight:normal;transform:scaleX(0.95);-webkit-text-stroke:0.25px #1e1e1e;">1080</div>
<div class="t" style="left:287.71px;top:866.3499999999999px;height:15px;line-height:15px;font-size:15px;color:#1e1e1e;font-weight:normal;transform:scaleX(0.95);-webkit-text-stroke:0.25px #1e1e1e;">10.5</div>
<div class="t" style="left:339.19px;top:866.3499999999999px;height:15px;line-height:15px;font-size:15px;color:#1e1e1e;font-weight:normal;transform:scaleX(0.95);-webkit-text-stroke:0.25px #1e1e1e;">25</div>
<div class="t" style="left:390.61999999999995px;top:866.3499999999999px;height:15px;line-height:15px;font-size:15px;color:#1e1e1e;font-weight:normal;transform:scaleX(0.95);-webkit-text-stroke:0.25px #1e1e1e;">50</div>
<div class="t" style="left:442.04999999999995px;top:866.3499999999999px;height:15px;line-height:15px;font-size:15px;color:#1e1e1e;font-weight:normal;transform:scaleX(0.95);-webkit-text-stroke:0.25px #1e1e1e;">210</div>
<div class="t" style="left:493.4799999999999px;top:866.3499999999999px;height:15px;line-height:15px;font-size:15px;color:#1e1e1e;font-weight:normal;transform:scaleX(0.95);-webkit-text-stroke:0.25px #1e1e1e;">120</div>
<div class="t" style="left:542.51px;top:866.3499999999999px;height:15px;line-height:15px;font-size:15px;color:#1e1e1e;font-weight:normal;transform:scaleX(0.95);-webkit-text-stroke:0.25px #1e1e1e;">85</div>
<div class="t" style="left:-72.8px;top:927.35px;height:15px;line-height:15px;font-size:15px;color:#1e1e1e;font-weight:normal;transform:scaleX(0.95);-webkit-text-stroke:0.25px #1e1e1e;">500</div>
<div class="t" style="left:-21.120000000000005px;top:927.35px;height:15px;line-height:15px;font-size:15px;color:#1e1e1e;font-weight:normal;transform:scaleX(0.95);-webkit-text-stroke:0.25px #1e1e1e;">800</div>
<div class="t" style="left:30.310000000000002px;top:927.35px;height:15px;line-height:15px;font-size:15px;color:#1e1e1e;font-weight:normal;transform:scaleX(0.95);-webkit-text-stroke:0.25px #1e1e1e;">920</div>
<div class="t" style="left:81.74000000000001px;top:927.35px;height:15px;line-height:15px;font-size:15px;color:#1e1e1e;font-weight:normal;transform:scaleX(0.95);-webkit-text-stroke:0.25px #1e1e1e;">1040</div>
<div class="t" style="left:133.17px;top:927.35px;height:15px;line-height:15px;font-size:15px;color:#1e1e1e;font-weight:normal;transform:scaleX(0.95);-webkit-text-stroke:0.25px #1e1e1e;">18</div>
<div class="t" style="left:184.65000000000003px;top:927.35px;height:15px;line-height:15px;font-size:15px;color:#1e1e1e;font-weight:normal;transform:scaleX(0.95);-webkit-text-stroke:0.25px #1e1e1e;">205</div>
<div class="t" style="left:236.17999999999995px;top:927.35px;height:15px;line-height:15px;font-size:15px;color:#1e1e1e;font-weight:normal;transform:scaleX(0.95);-webkit-text-stroke:0.25px #1e1e1e;">1305</div>
<div class="t" style="left:287.71px;top:927.35px;height:15px;line-height:15px;font-size:15px;color:#1e1e1e;font-weight:normal;transform:scaleX(0.95);-webkit-text-stroke:0.25px #1e1e1e;">10.5</div>
<div class="t" style="left:339.19px;top:927.35px;height:15px;line-height:15px;font-size:15px;color:#1e1e1e;font-weight:normal;transform:scaleX(0.95);-webkit-text-stroke:0.25px #1e1e1e;">25</div>
<div class="t" style="left:390.61999999999995px;top:927.35px;height:15px;line-height:15px;font-size:15px;color:#1e1e1e;font-weight:normal;transform:scaleX(0.95);-webkit-text-stroke:0.25px #1e1e1e;">50</div>
<div class="t" style="left:442.04999999999995px;top:927.35px;height:15px;line-height:15px;font-size:15px;color:#1e1e1e;font-weight:normal;transform:scaleX(0.95);-webkit-text-stroke:0.25px #1e1e1e;">210</div>
<div class="t" style="left:493.4799999999999px;top:927.35px;height:15px;line-height:15px;font-size:15px;color:#1e1e1e;font-weight:normal;transform:scaleX(0.95);-webkit-text-stroke:0.25px #1e1e1e;">140</div>
<div class="t" style="left:542.51px;top:927.35px;height:15px;line-height:15px;font-size:15px;color:#1e1e1e;font-weight:normal;transform:scaleX(0.95);-webkit-text-stroke:0.25px #1e1e1e;">85</div>
<div class="t" style="left:-72.8px;top:967.2px;height:15px;line-height:15px;font-size:15px;color:#1e1e1e;font-weight:normal;transform:scaleX(0.95);-webkit-text-stroke:0.25px #1e1e1e;">500</div>
<div class="t" style="left:-21.120000000000005px;top:967.2px;height:15px;line-height:15px;font-size:15px;color:#1e1e1e;font-weight:normal;transform:scaleX(0.95);-webkit-text-stroke:0.25px #1e1e1e;">1000</div>
<div class="t" style="left:30.310000000000002px;top:967.2px;height:15px;line-height:15px;font-size:15px;color:#1e1e1e;font-weight:normal;transform:scaleX(0.95);-webkit-text-stroke:0.25px #1e1e1e;">1020</div>
<div class="t" style="left:81.74000000000001px;top:967.2px;height:15px;line-height:15px;font-size:15px;color:#1e1e1e;font-weight:normal;transform:scaleX(0.95);-webkit-text-stroke:0.25px #1e1e1e;">1240</div>
<div class="t" style="left:133.17px;top:967.2px;height:15px;line-height:15px;font-size:15px;color:#1e1e1e;font-weight:normal;transform:scaleX(0.95);-webkit-text-stroke:0.25px #1e1e1e;">22</div>
<div class="t" style="left:184.65000000000003px;top:967.2px;height:15px;line-height:15px;font-size:15px;color:#1e1e1e;font-weight:normal;transform:scaleX(0.95);-webkit-text-stroke:0.25px #1e1e1e;">205</div>
<div class="t" style="left:236.17999999999995px;top:967.2px;height:15px;line-height:15px;font-size:15px;color:#1e1e1e;font-weight:normal;transform:scaleX(0.95);-webkit-text-stroke:0.25px #1e1e1e;">1500</div>
<div class="t" style="left:287.71px;top:967.2px;height:15px;line-height:15px;font-size:15px;color:#1e1e1e;font-weight:normal;transform:scaleX(0.95);-webkit-text-stroke:0.25px #1e1e1e;">10.5</div>
<div class="t" style="left:339.19px;top:967.2px;height:15px;line-height:15px;font-size:15px;color:#1e1e1e;font-weight:normal;transform:scaleX(0.95);-webkit-text-stroke:0.25px #1e1e1e;">25</div>
<div class="t" style="left:390.61999999999995px;top:967.2px;height:15px;line-height:15px;font-size:15px;color:#1e1e1e;font-weight:normal;transform:scaleX(0.95);-webkit-text-stroke:0.25px #1e1e1e;">50</div>
<div class="t" style="left:442.04999999999995px;top:967.2px;height:15px;line-height:15px;font-size:15px;color:#1e1e1e;font-weight:normal;transform:scaleX(0.95);-webkit-text-stroke:0.25px #1e1e1e;">210</div>
<div class="t" style="left:493.4799999999999px;top:967.2px;height:15px;line-height:15px;font-size:15px;color:#1e1e1e;font-weight:normal;transform:scaleX(0.95);-webkit-text-stroke:0.25px #1e1e1e;">140</div>
<div class="t" style="left:542.51px;top:967.2px;height:15px;line-height:15px;font-size:15px;color:#1e1e1e;font-weight:normal;transform:scaleX(0.95);-webkit-text-stroke:0.25px #1e1e1e;">85</div>
<div class="dl" style="left:137.5px;top:474.8px;font-size:14px;-webkit-text-stroke:0.35px #151515;">C</div>
<div class="dl" style="left:243.60000000000002px;top:472.3px;font-size:14px;-webkit-text-stroke:0.35px #151515;">L</div>
<div class="dl" style="left:355.8px;top:474.4px;font-size:14px;-webkit-text-stroke:0.35px #151515;">C</div>
<div class="dl" style="left:244.7px;top:504.1px;font-size:14px;-webkit-text-stroke:0.35px #151515;">B</div>
<div class="dl" style="left:377.5px;top:510.70000000000005px;font-size:14px;-webkit-text-stroke:0.35px #151515;">b</div>
<div class="dl" style="left:101.0px;top:522.0px;font-size:14px;-webkit-text-stroke:0.35px #151515;">e</div>
<div class="dl" style="left:401.8px;top:553.3px;font-size:14px;-webkit-text-stroke:0.35px #151515;transform:rotate(-90deg)">h</div>
<div class="dl" style="left:274.8px;top:574.2px;font-size:13.5px;-webkit-text-stroke:0.35px #151515;">D</div>
<div class="dl" style="left:517.8px;top:584.6px;font-size:14.5px;-webkit-text-stroke:0.35px #151515;transform:rotate(-90deg)">H</div>
<div class="dl" style="left:104.0px;top:634.0px;font-size:14px;-webkit-text-stroke:0.35px #151515;">M</div>
<div class="dl" style="left:440.4px;top:638.6px;font-size:14px;-webkit-text-stroke:0.35px #151515;">k</div>
<div class="dl" style="left:246.60000000000002px;top:665.5px;font-size:14px;-webkit-text-stroke:0.35px #151515;">A</div>
<div class="dl" style="left:247.0px;top:703.3px;font-size:14px;-webkit-text-stroke:0.35px #151515;">L<span style="font-size:9px;vertical-align:-2px">1</span></div>
<div class="dl" style="left:455.4px;top:687.7px;font-size:14px;-webkit-text-stroke:0.35px #151515;">N</div>
</body></html>
